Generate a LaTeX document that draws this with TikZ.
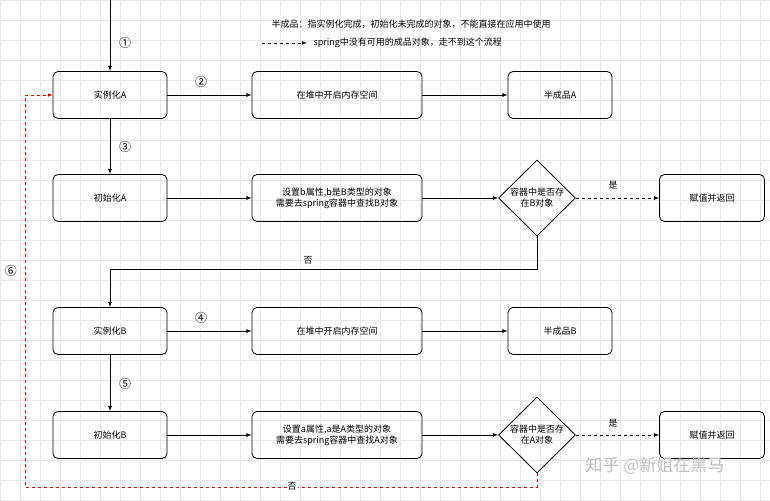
\documentclass[tikz,border=0pt]{standalone}
\usepackage{fontspec}
\setmainfont{Noto Sans CJK SC}
\usetikzlibrary{shapes.geometric}
\begin{document}
\begin{tikzpicture}[x=1pt,y=-1pt]
\tikzset{ >=latex, font=\fontsize{9}{11}\selectfont,
  box/.style={draw, thick, rounded corners=5pt, minimum height=47pt, align=center},
  ask/.style={draw, thick, diamond, minimum width=77pt, minimum height=76pt, inner sep=0pt, align=center},
  num/.style={font=\fontsize{12}{12}\selectfont},
  no/.style={red!90!black, dashed, semithick},
}
\useasboundingbox (0,0) rectangle (770,500);
\foreach \g in {0,20,...,760} \draw [black!9] (\g,0) -- (\g,500);
\foreach \g in {0,20,...,500} \draw [black!9] (0,\g) -- (770,\g);

\node [box, minimum width=114pt] (IA) at (110,95)  {实例化A};
\node [box, minimum width=170pt] (HA) at (337,95)  {在堆中开启内存空间};
\node [box, minimum width=104pt] (SA) at (560,95)  {半成品A};
\node [box, minimum width=114pt] (CA) at (110,198) {初始化A};
\node [box, minimum width=170pt] (PA) at (337,198) {设置b属性,b是B类型的对象\\需要去spring容器中查找B对象};
\node [ask] (QA) at (537,198) {容器中是否存\\在B对象};
\node [box, minimum width=105pt] (RA) at (712,198) {赋值并返回};

\node [box, minimum width=114pt] (IB) at (110,331) {实例化B};
\node [box, minimum width=170pt] (HB) at (337,331) {在堆中开启内存空间};
\node [box, minimum width=104pt] (SB) at (560,331) {半成品B};
\node [box, minimum width=114pt] (CB) at (110,435) {初始化B};
\node [box, minimum width=170pt] (PB) at (337,435) {设置a属性,a是A类型的对象\\需要去spring容器中查找A对象};
\node [ask] (QB) at (537,435) {容器中是否存\\在A对象};
\node [box, minimum width=105pt] (RB) at (712,435) {赋值并返回};

\coordinate (S) at (110,0);
\coordinate (K1) at (537,269);
\coordinate (K2) at (110,269);
\coordinate (L1) at (537,487);
\coordinate (L2) at (25,487);
\coordinate (L3) at (25,95);
\coordinate (E1) at (262,43);
\coordinate (E2) at (307,43);

\draw [->, thick] (S)  -- (IA);
\draw [->, thick] (IA) -- (HA);
\draw [->, thick] (HA) -- (SA);
\draw [->, thick] (IA) -- (CA);
\draw [->, thick] (CA) -- (PA);
\draw [->, thick] (PA) -- (QA);
\draw [->, thick, dashed] (QA) -- (RA);
\draw [->, thick] (QA) -- (K1) -- (K2) -- (IB);

\draw [->, thick] (IB) -- (HB);
\draw [->, thick] (HB) -- (SB);
\draw [->, thick] (IB) -- (CB);
\draw [->, thick] (CB) -- (PB);
\draw [->, thick] (PB) -- (QB);
\draw [->, thick, dashed] (QB) -- (RB);
\draw [->, no] (QB) -- (L1) -- (L2) -- (L3) -- (IA);

\draw [->, thick, dashed] (E1) -- (E2);
\node [anchor=west] (T1) at (268,24) {半成品：指实例化完成，初始化未完成的对象，不能直接在应用中使用};
\node [anchor=west] (T2) at (310,43) {spring中没有可用的成品对象，走不到这个流程};

\node [num] (N1) at (125,43)  {①};
\node [num] (N2) at (201,82)  {②};
\node [num] (N3) at (125,147) {③};
\node [num] (N4) at (201,318) {④};
\node [num] (N5) at (125,384) {⑤};
\node [num] (N6) at (11,271)  {⑥};

\node (Y1) at (613,185) {是};
\node (Y2) at (613,423) {是};
\node (F1) at (308,260) {否};
\node [fill=white, inner sep=1pt] (F2) at (292,486) {否};

\node [black!25, font=\fontsize{17}{17}\selectfont] (W) at (655,466) {知乎 @新姐在黑马};
\end{tikzpicture}
\end{document}
